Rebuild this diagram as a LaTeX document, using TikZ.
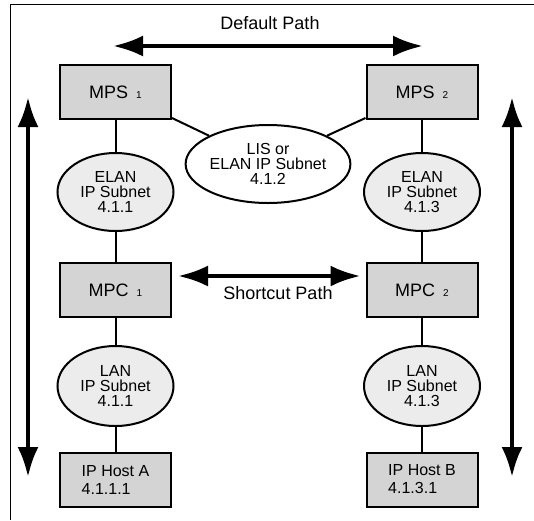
\documentclass[tikz,border=0pt]{standalone}
\usepackage{fontspec}
\setmainfont{Liberation Sans}
\usepackage{xcolor}
\usetikzlibrary{shapes.geometric, arrows.meta, positioning, calc}
\definecolor{boxgray}{HTML}{D4D4D4}
\definecolor{netgray}{HTML}{ECECEC}
\newcommand{\subidx}[1]{\hspace{4pt}{\fontsize{5}{5}\selectfont #1}}
\tikzset{
  mpbox/.style={
    draw, line width=1pt, fill=boxgray, align=center,
    minimum width=55.5pt, minimum height=27pt, inner sep=0pt,
    font=\fontsize{9}{10}\selectfont
  },
  hostbox/.style={
    mpbox, align=left, font=\fontsize{8}{9}\selectfont
  },
  subnet/.style={
    ellipse, draw, line width=1pt, fill=netgray, align=center,
    minimum width=58pt, minimum height=39pt, inner sep=0pt,
    font=\fontsize{8}{7.5}\selectfont
  },
  link/.style={line width=1pt},
  patharrow/.style={
    {Latex[length=15pt, width=10.5pt]}-{Latex[length=15pt, width=10.5pt]},
    line width=2pt
  },
  pathlabel/.style={font=\fontsize{9}{10}\selectfont},
}
\begin{document}
\begin{tikzpicture}[x=0.5pt, y=-0.5pt]
  \useasboundingbox (0,0) rectangle (534,520);
  % Frame
  \draw[line width=0.5pt] (534,4) -- (10,4) -- (10,520);

  % Servers and clients
  \node[mpbox] (mps1) at (115.5,92) {MPS\subidx{1}};
  \node[mpbox] (mps2) at (422,92) {MPS\subidx{2}};
  \node[mpbox] (mpc1) at (115.5,290) {MPC\subidx{1}};
  \node[mpbox] (mpc2) at (422,290) {MPC\subidx{2}};
  \node[hostbox] (hosta) at (115.5,479.5) {IP Host A\\4.1.1.1};
  \node[hostbox] (hostb) at (422,479.5) {IP Host B\\4.1.3.1};

  % Subnets
  \node[subnet] (elan1) at (115.5,192) {ELAN\\IP Subnet\\4.1.1};
  \node[subnet] (elan2) at (422,192) {ELAN\\IP Subnet\\4.1.3};
  \node[subnet, fill=white, minimum width=73pt] (lis) at (268,164)
    {LIS or\\ELAN IP Subnet\\4.1.2};
  \node[subnet, minimum height=40pt] (lan1) at (115.5,386) {LAN\\IP Subnet\\4.1.1};
  \node[subnet, minimum height=40pt] (lan2) at (422,386) {LAN\\IP Subnet\\4.1.3};

  % Links
  \draw[link] (mps1) -- (elan1) -- (mpc1) -- (lan1) -- (hosta);
  \draw[link] (mps2) -- (elan2) -- (mpc2) -- (lan2) -- (hostb);
  \draw[link] ([yshift=1pt]mps1.south east) -- (lis.north west);
  \draw[link] ([yshift=1pt]mps2.south west) -- (lis.north east);

  % Paths
  \coordinate (defl) at (113,46);
  \coordinate (defr) at (423,46);
  \node[pathlabel] (deflabel) at (270,23) {Default Path};
  \draw[patharrow] (defl) -- (defr);

  \draw[patharrow] ([xshift=3pt, yshift=7pt]mpc1.east)
    -- ([xshift=-2.5pt, yshift=7pt]mpc2.west);
  \node[pathlabel] (shortlabel) at (278,293) {Shortcut Path};

  \coordinate (leftup) at (28,97);
  \coordinate (leftdown) at (28,477);
  \coordinate (rightup) at (512,97);
  \coordinate (rightdown) at (512,477);
  \draw[patharrow] (leftup) -- (leftdown);
  \draw[patharrow] (rightup) -- (rightdown);
\end{tikzpicture}
\end{document}
